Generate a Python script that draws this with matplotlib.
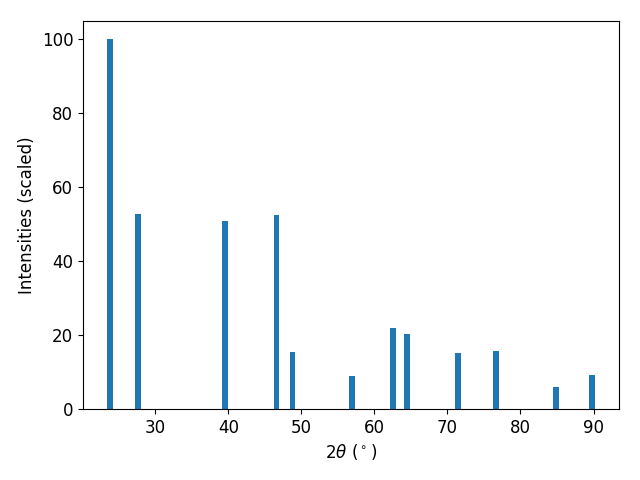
import matplotlib
matplotlib.use("Agg")
import matplotlib.pyplot as plt

two_theta = [23.85, 27.6, 39.5, 46.6, 48.8, 56.95, 62.6, 64.5, 71.5, 76.6, 84.9, 89.75]
intensity = [100, 52.8, 51.0, 52.6, 15.4, 8.9, 22.0, 20.3, 15.2, 15.7, 6.0, 9.2]

fig, ax = plt.subplots(figsize=(6.4, 4.8), dpi=100)
ax.bar(two_theta, intensity, width=0.8)
ax.set_xlabel(r"2$\theta$ ($^\circ$)", fontsize=12)
ax.set_ylabel("Intensities (scaled)", fontsize=12)
ax.tick_params(labelsize=12)
fig.subplots_adjust(left=83/640, right=619/640, top=1-21/480, bottom=1-409/480)
fig.savefig("out.png")
